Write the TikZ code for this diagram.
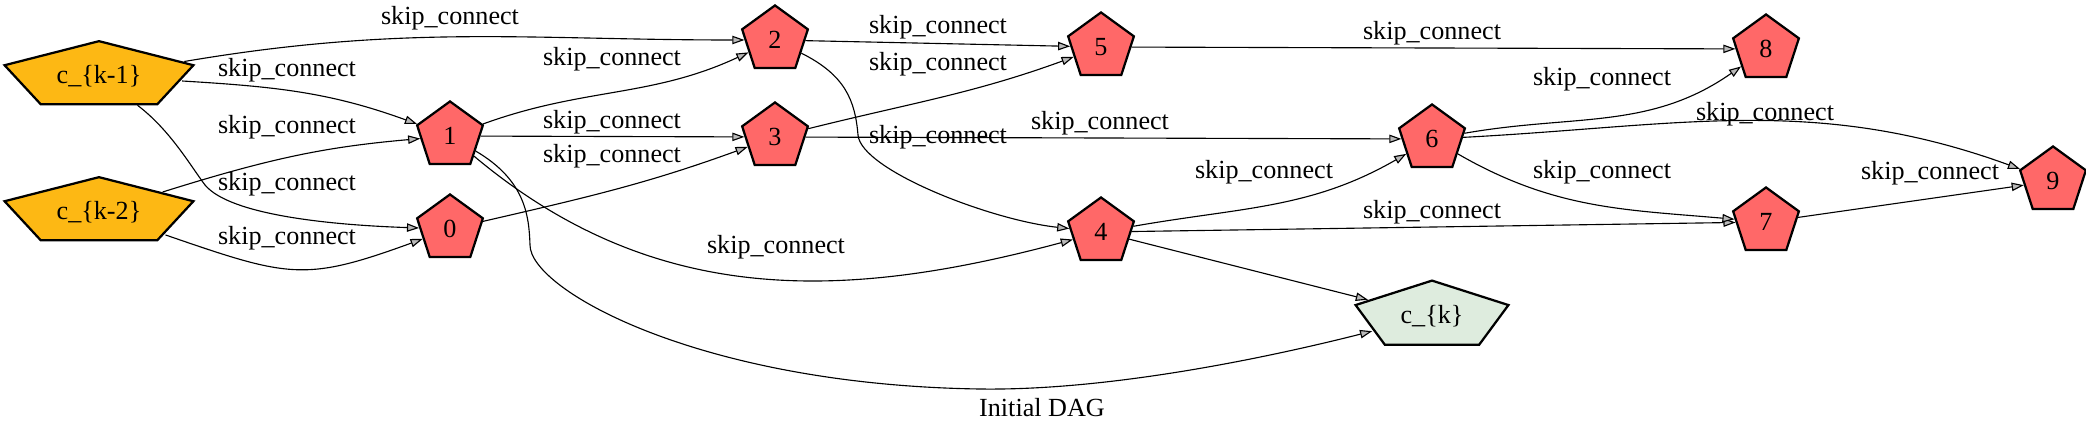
\documentclass[tikz,border=0pt]{standalone}
\usepackage{fontspec}
\setmainfont{Liberation Serif}
\usepackage{graphicx}
\usetikzlibrary{shapes.geometric,arrows.meta}

\definecolor{oprred}{RGB}{255,104,104}
\definecolor{inorange}{RGB}{253,184,20}
\definecolor{outgreen}{RGB}{222,236,222}

\begin{document}
\begin{tikzpicture}[x=0.5354pt, y=0.5354pt,
  every node/.style={font=\fontsize{14pt}{16pt}\selectfont, inner sep=0pt},
  pent/.style={regular polygon, regular polygon sides=5, draw, line width=1.2pt},
  opnode/.style={pent, fill=oprred, minimum size=37pt},
  innode/.style={pent, fill=inorange, minimum size=37.3pt, xscale=2.85, transform shape},
  outnode/.style={pent, fill=outgreen, minimum size=37.9pt, xscale=2.27, transform shape},
  flow/.style={-{Triangle[length=6.5pt,width=4.5pt,fill=gray!55]}, line width=0.6pt},
  lab/.style={inner sep=1pt}]

\useasboundingbox (0,0) rectangle (2086,-436);

% Position the nodes at the places of the layout
\node[innode] (km1) at (99,-76) {\scalebox{0.351}[1]{c\_\{k-1\}}};
\node[innode] (km2) at (99,-212) {\scalebox{0.351}[1]{c\_\{k-2\}}};
\node[opnode] (n0) at (450,-229) {0};
\node[opnode] (n1) at (450,-136) {1};
\node[opnode] (n2) at (775,-40) {2};
\node[opnode] (n3) at (775,-137) {3};
\node[opnode] (n4) at (1101,-232) {4};
\node[opnode] (n5) at (1101,-47) {5};
\node[opnode] (n6) at (1432,-139) {6};
\node[opnode] (n7) at (1766,-222) {7};
\node[opnode] (n8) at (1766,-49) {8};
\node[opnode] (n9) at (2053,-181) {9};
\node[outnode] (ck) at (1432,-316) {\scalebox{0.4405}[1]{c\_\{k\}}};

% Edge labels
\node[lab] (l1) at (450,-18) {skip\_connect};
\node[lab] (l2) at (287,-70) {skip\_connect};
\node[lab] (l3) at (287,-127) {skip\_connect};
\node[lab] (l4) at (287,-184) {skip\_connect};
\node[lab] (l5) at (287,-238) {skip\_connect};
\node[lab] (l6) at (612,-59) {skip\_connect};
\node[lab] (l7) at (612,-122) {skip\_connect};
\node[lab] (l8) at (612,-156) {skip\_connect};
\node[lab] (l9) at (776,-247) {skip\_connect};
\node[lab] (l10) at (938,-27) {skip\_connect};
\node[lab] (l11) at (938,-64) {skip\_connect};
\node[lab] (l12) at (938,-137) {skip\_connect};
\node[lab] (l13) at (1100,-123) {skip\_connect};
\node[lab] (l14) at (1264,-172) {skip\_connect};
\node[lab] (l15) at (1432,-33) {skip\_connect};
\node[lab] (l16) at (1432,-212) {skip\_connect};
\node[lab] (l17) at (1602,-79) {skip\_connect};
\node[lab] (l18) at (1765,-114) {skip\_connect};
\node[lab] (l19) at (1602,-172) {skip\_connect};
\node[lab] (l20) at (1930,-173) {skip\_connect};
\node (caption) at (1042,-408) {Initial DAG};

% Draw the arrows between the nodes
\draw[flow] (km1) to[out=12,in=180] (n2);
\draw[flow] (km1) to[out=-5,in=160] (n1);
\draw[flow] (km1) .. controls (170,-130) and (190,-165) .. (205,-185)
  .. controls (230,-215) and (330,-225) .. (n0);
\draw[flow] (km2) to[out=25,in=185] (n1);
\draw[flow] (km2) to[out=-25,in=200,looseness=1.3] (n0);
\draw[flow] (n1) to[out=20,in=205] (n2);
\draw[flow] (n1) -- (n3);
\draw[flow] (n1) to[out=-40,in=195] (n4);
\draw[flow] (n1) .. controls (525,-180) and (529,-215) .. (530,-245)
  .. controls (530,-290) and (700,-385) .. (980,-389)
  .. controls (1120,-391) and (1290,-352) .. (ck);
\draw[flow] (n0) to[out=13,in=200] (n3);
\draw[flow] (n2) -- (n5);
\draw[flow] (n2) .. controls (845,-75) and (855,-100) .. (858,-135)
  .. controls (861,-170) and (990,-220) .. (n4);
\draw[flow] (n3) to[out=14,in=200] (n5);
\draw[flow] (n3) -- (n6);
\draw[flow] (n4) to[out=10,in=210] (n6);
\draw[flow] (n4) -- (n7);
\draw[flow] (n4) -- (ck);
\draw[flow] (n5) -- (n8);
\draw[flow] (n6) to[out=10,in=215] (n8);
\draw[flow] (n6) to[out=3,in=160] (n9);
\draw[flow] (n6) to[out=-30,in=175] (n7);
\draw[flow] (n7) -- (n9);

\end{tikzpicture}
\end{document}
